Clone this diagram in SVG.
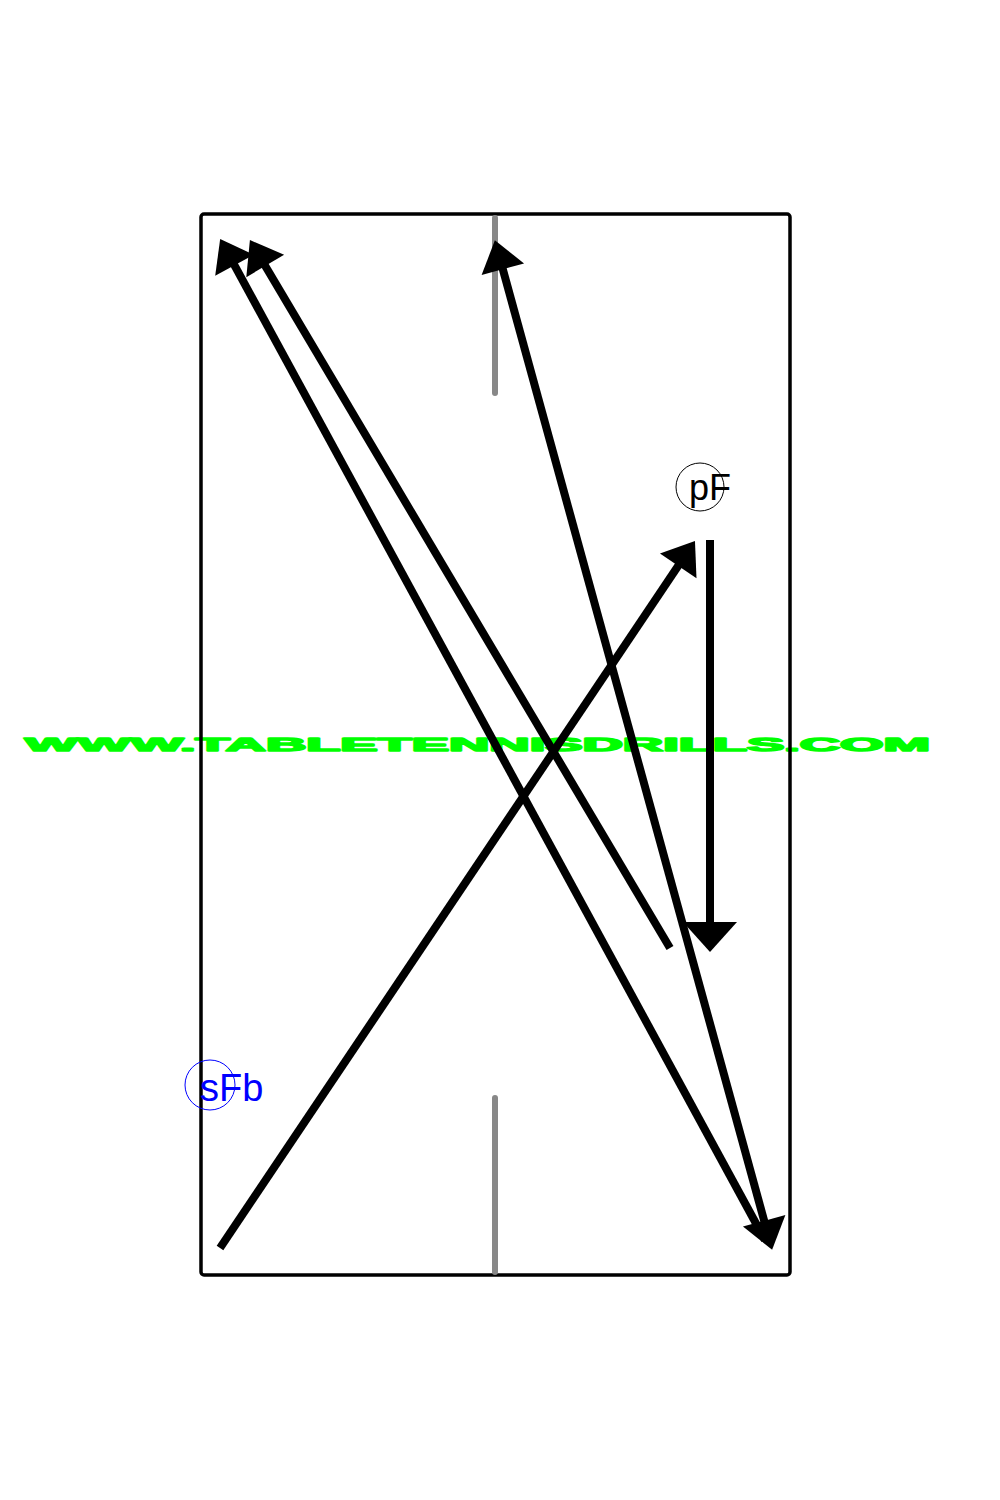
<svg xmlns="http://www.w3.org/2000/svg" width="1000" height="1500" viewBox="0 0 1000 1500">
<style>
.arrow{stroke:#000;stroke-width:8;fill:none;stroke-linecap:butt}
.cl{stroke:#888;stroke-width:6;stroke-linecap:round;fill:none}
.lbl{font-family:"Liberation Sans",Arial,sans-serif}
</style>
<defs>
<marker id="ah" markerUnits="userSpaceOnUse" markerWidth="50" markerHeight="50" viewBox="-30 -25 40 50" refX="0" refY="0" orient="auto-start-reverse">
<path d="M8,0 L-22,-22 L-22,22 Z" fill="#000"/>
</marker>
<marker id="ahb" markerUnits="userSpaceOnUse" markerWidth="60" markerHeight="60" viewBox="-30 -30 40 60" refX="0" refY="0" orient="auto">
<path d="M8,0 L-22,-27 L-22,27 Z" fill="#000"/>
</marker>
</defs>
<rect width="1000" height="1500" fill="#fff"/>
<text id="watermark" class="lbl" transform="translate(25,751) scale(1,0.5)" font-size="36" font-weight="bold" fill="#00ff00" stroke="#00ff00" stroke-width="3" stroke-linejoin="round" textLength="905" lengthAdjust="spacingAndGlyphs">WWW.TABLETENNISDRILLS.COM</text>
<g id="table">
<rect x="201" y="214" width="589" height="1061" rx="3" fill="none" stroke="#000" stroke-width="3.5"/>
<line class="cl" x1="495" y1="218" x2="495" y2="393"/>
<line class="cl" x1="495" y1="1098" x2="495" y2="1272"/>
</g>
<g id="connectors">
<line class="arrow" x1="220" y1="1248" x2="690.5" y2="547.6" marker-end="url(#ah)"/>
<line class="arrow" x1="710" y1="540" x2="710" y2="944" marker-end="url(#ahb)"/>
<line class="arrow" x1="670" y1="948" x2="254" y2="247" marker-end="url(#ah)"/>
<line class="arrow" x1="765" y1="1240" x2="224" y2="246" marker-end="url(#ah)"/>
<line class="arrow" x1="497" y1="248" x2="770" y2="1242" marker-start="url(#ah)" marker-end="url(#ah)"/>
</g>
<g id="pF">
<circle cx="700" cy="487" r="24" fill="none" stroke="#000" stroke-width="1"/>
<text class="lbl" x="689" y="500" font-size="36" fill="#000">pF</text>
</g>
<g id="sFb">
<circle cx="210" cy="1085" r="25" fill="none" stroke="#0000ff" stroke-width="1"/>
<text class="lbl" x="200" y="1101" font-size="38" fill="#0000ff">sFb</text>
</g>
</svg>
